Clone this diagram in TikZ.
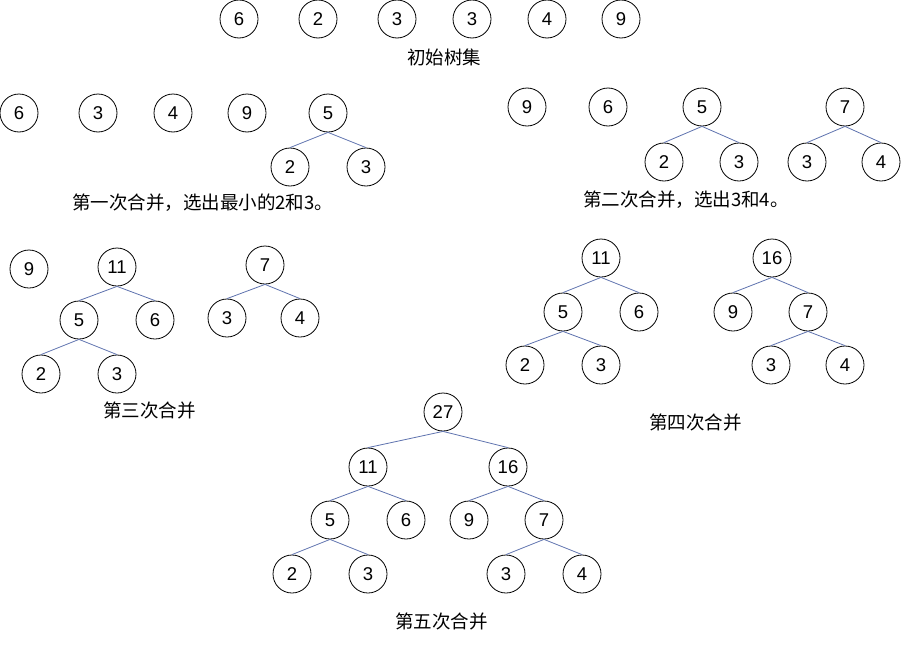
\documentclass[tikz,border=0pt]{standalone}
\usepackage{fontspec}
\setmainfont{Liberation Sans}
\newfontfamily\cjk{Noto Sans CJK SC}
\definecolor{edgeblue}{RGB}{95,115,175}
\tikzset{
  tn/.style={circle,draw=black,line width=0.8pt,minimum size=38pt,inner sep=0pt,font=\fontsize{18.5}{18.5}\selectfont},
  lbl/.style={anchor=west,inner sep=0pt,font=\cjk\fontsize{18.5}{18.5}\selectfont},
  ed/.style={draw=edgeblue,line width=0.8pt}
}
\begin{document}
\begin{tikzpicture}[x=1pt,y=-1pt]
\useasboundingbox[fill=white] (0,0) rectangle (901,645);
% initial set
\node[tn] (a1) at (239,19) {6};
\node[tn] (a2) at (318,19) {2};
\node[tn] (a3) at (397,19) {3};
\node[tn] (a4) at (472,19) {3};
\node[tn] (a5) at (547,19) {4};
\node[tn] (a6) at (621,19) {9};
\node[lbl] (la) at (407,57) {初始树集};
% first merge
\node[tn] (b1) at (19,113) {6};
\node[tn] (b2) at (98,113) {3};
\node[tn] (b3) at (173,113) {4};
\node[tn] (b4) at (247,113) {9};
\node[tn] (b5) at (328,113) {5};
\node[tn] (b6) at (290,167) {2};
\node[tn] (b7) at (366,167) {3};
\node[lbl] (lb) at (72,203) {第一次合并，选出最小的2和3。};
\draw[ed] (b5.south) -- (b6.north);
\draw[ed] (b5.south) -- (b7.north);
% second merge
\node[tn] (c1) at (527,107) {9};
\node[tn] (c2) at (608,107) {6};
\node[tn] (c3) at (702,107) {5};
\node[tn] (c4) at (845,107) {7};
\node[tn] (c5) at (664,162) {2};
\node[tn] (c6) at (739,162) {3};
\node[tn] (c7) at (807,162) {3};
\node[tn] (c8) at (881,162) {4};
\node[lbl] (lc) at (583,200) {第二次合并，选出3和4。};
\draw[ed] (c3.south) -- (c5.north);
\draw[ed] (c3.south) -- (c6.north);
\draw[ed] (c4.south) -- (c7.north);
\draw[ed] (c4.south) -- (c8.north);
% third merge
\node[tn] (d1) at (29,269) {9};
\node[tn] (d2) at (117,267) {11};
\node[tn] (d3) at (265,265) {7};
\node[tn] (d4) at (79,320) {5};
\node[tn] (d5) at (155,320) {6};
\node[tn] (d6) at (227,318) {3};
\node[tn] (d7) at (300,318) {4};
\node[tn] (d8) at (41,374) {2};
\node[tn] (d9) at (117,374) {3};
\node[lbl] (ld) at (103,410) {第三次合并};
\draw[ed] (d2.south) -- (d4.north);
\draw[ed] (d2.south) -- (d5.north);
\draw[ed] (d3.south) -- (d6.north);
\draw[ed] (d3.south) -- (d7.north);
\draw[ed] (d4.south) -- (d8.north);
\draw[ed] (d4.south) -- (d9.north);
% fourth merge
\node[tn] (e1) at (601,258) {11};
\node[tn] (e2) at (772,258) {16};
\node[tn] (e3) at (563,312) {5};
\node[tn] (e4) at (639,312) {6};
\node[tn] (e5) at (733,312) {9};
\node[tn] (e6) at (808,312) {7};
\node[tn] (e7) at (525,365) {2};
\node[tn] (e8) at (601,365) {3};
\node[tn] (e9) at (771,365) {3};
\node[tn] (e10) at (845,365) {4};
\node[lbl] (le) at (649,422) {第四次合并};
\draw[ed] (e1.south) -- (e3.north);
\draw[ed] (e1.south) -- (e4.north);
\draw[ed] (e2.south) -- (e5.north);
\draw[ed] (e2.south) -- (e6.north);
\draw[ed] (e3.south) -- (e7.north);
\draw[ed] (e3.south) -- (e8.north);
\draw[ed] (e6.south) -- (e9.north);
\draw[ed] (e6.south) -- (e10.north);
% fifth merge
\node[tn] (f1) at (443,412) {27};
\node[tn] (f2) at (368,467) {11};
\node[tn] (f3) at (508,467) {16};
\node[tn] (f4) at (330,520) {5};
\node[tn] (f5) at (406,520) {6};
\node[tn] (f6) at (469,520) {9};
\node[tn] (f7) at (544,520) {7};
\node[tn] (f8) at (292,574) {2};
\node[tn] (f9) at (368,574) {3};
\node[tn] (f10) at (506,574) {3};
\node[tn] (f11) at (582,574) {4};
\node[lbl] (lf) at (395,621) {第五次合并};
\draw[ed] (f1.south) -- (f2.north);
\draw[ed] (f1.south) -- (f3.north);
\draw[ed] (f2.south) -- (f4.north);
\draw[ed] (f2.south) -- (f5.north);
\draw[ed] (f3.south) -- (f6.north);
\draw[ed] (f3.south) -- (f7.north);
\draw[ed] (f4.south) -- (f8.north);
\draw[ed] (f4.south) -- (f9.north);
\draw[ed] (f7.south) -- (f10.north);
\draw[ed] (f7.south) -- (f11.north);
\end{tikzpicture}
\end{document}
